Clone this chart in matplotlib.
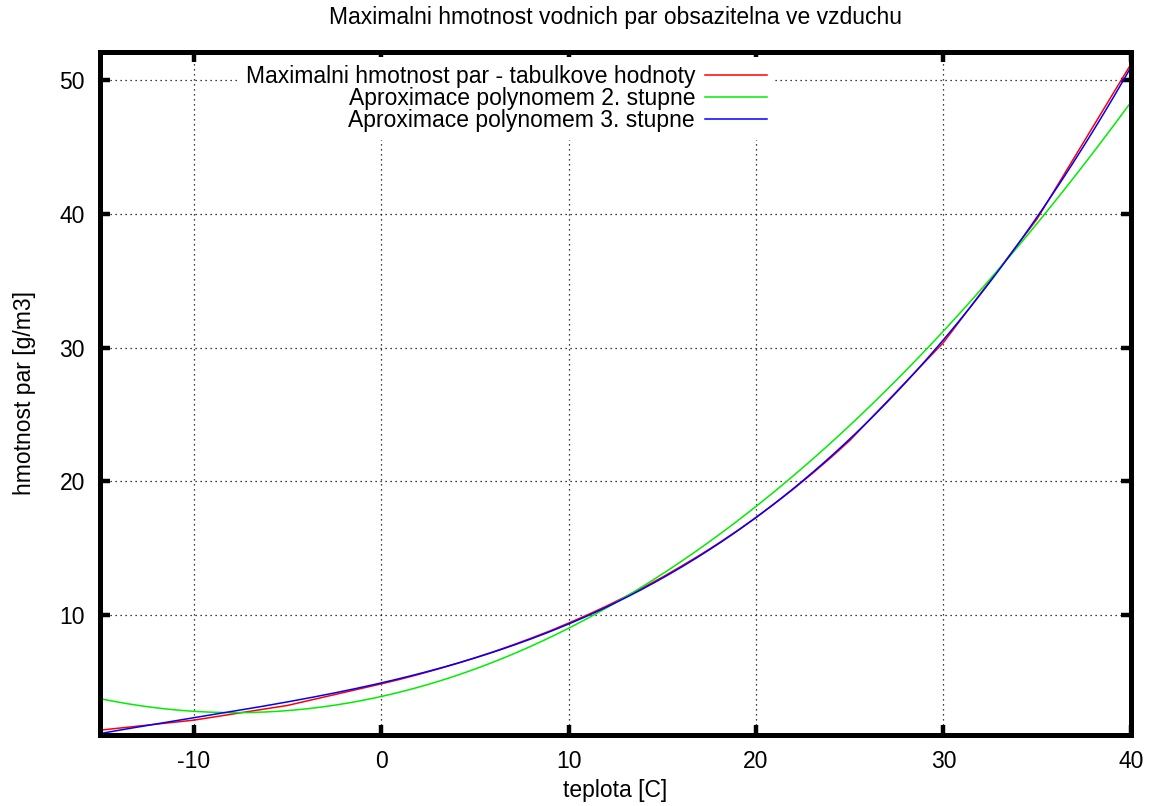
import numpy as np
import matplotlib
matplotlib.use("Agg")
from matplotlib import pyplot as plt

# tabulkove hodnoty: teplota [C] -> maximalni hmotnost par [g/m3]
teplota = [-15, -10, -5,
           0, 1, 2, 3, 4, 5, 6, 7, 8, 9, 10, 11, 12,
           13, 14, 15, 16, 17, 18, 19, 20, 21, 22, 23, 24, 25,
           30, 35, 40]
hmotnost = [1.39, 2.14, 3.24,
            4.85, 5.19, 5.56, 5.95, 6.36, 6.80, 7.26, 7.75, 8.27, 8.81, 9.40, 10.01, 10.66,
            11.35, 12.07, 12.83, 13.64, 14.48, 15.37, 16.31, 17.30, 18.34, 19.43, 20.58, 21.78, 23.05,
            30.38, 39.63, 51.19]

x_ticks = [-10, 0, 10, 20, 30, 40]
y_ticks = [10, 20, 30, 40, 50]

plt.rcParams['font.family'] = ['Liberation Sans', 'DejaVu Sans']
plt.rcParams['axes.unicode_minus'] = False


def main() -> None:
    fig = plt.figure(figsize=(11.54, 8.06), dpi=100)
    ax = fig.add_axes([0.0867, 0.0881, 0.8933, 0.8474])

    t = np.array(teplota, dtype=float)
    m = np.array(hmotnost, dtype=float)
    p2 = np.polyfit(t, m, 2)
    p3 = np.polyfit(t, m, 3)
    xs = np.linspace(-15, 40, 300)

    ax.plot(t, m, color='#ff0000', lw=1.1, label='Maximalni hmotnost par - tabulkove hodnoty')
    ax.plot(xs, np.polyval(p2, xs), color='#00ee00', lw=1.1, label='Aproximace polynomem 2. stupne')
    ax.plot(xs, np.polyval(p3, xs), color='#0000ff', lw=1.1, label='Aproximace polynomem 3. stupne')

    ax.set_xlim(-15, 40)
    ax.set_ylim(1.03, 52.1)
    ax.set_xticks(x_ticks)
    ax.set_yticks(y_ticks)
    ax.grid(True, color='black', linestyle=(0, (1, 3)), linewidth=0.9)
    ax.tick_params(direction='in', length=7, width=3.2, labelsize=16.5,
                   top=True, right=True, pad=11)
    for s in ax.spines.values():
        s.set_linewidth(3.6)

    ax.set_xlabel('teplota [C]', fontsize=16.5, labelpad=4)
    ax.set_ylabel('hmotnost par [g/m3]', fontsize=16.5, labelpad=17)
    ax.set_title('Maximalni hmotnost vodnich par obsazitelna ve vzduchu', fontsize=16.5, pad=20)

    leg = ax.legend(loc='upper right', bbox_to_anchor=(0.655, 0.992), markerfirst=False,
                    fontsize=16.5, handlelength=2.7, handletextpad=0.45, labelspacing=-0.05,
                    borderaxespad=0, borderpad=0.35, fancybox=False, framealpha=1)
    leg.get_frame().set_edgecolor('none')
    leg.get_frame().set_facecolor('white')
    for txt in leg.get_texts():
        txt.set_ha('right')
    leg._legend_box.align = 'right'

    fig.savefig('out.png', dpi=100)


if __name__ == "__main__":
    main()
